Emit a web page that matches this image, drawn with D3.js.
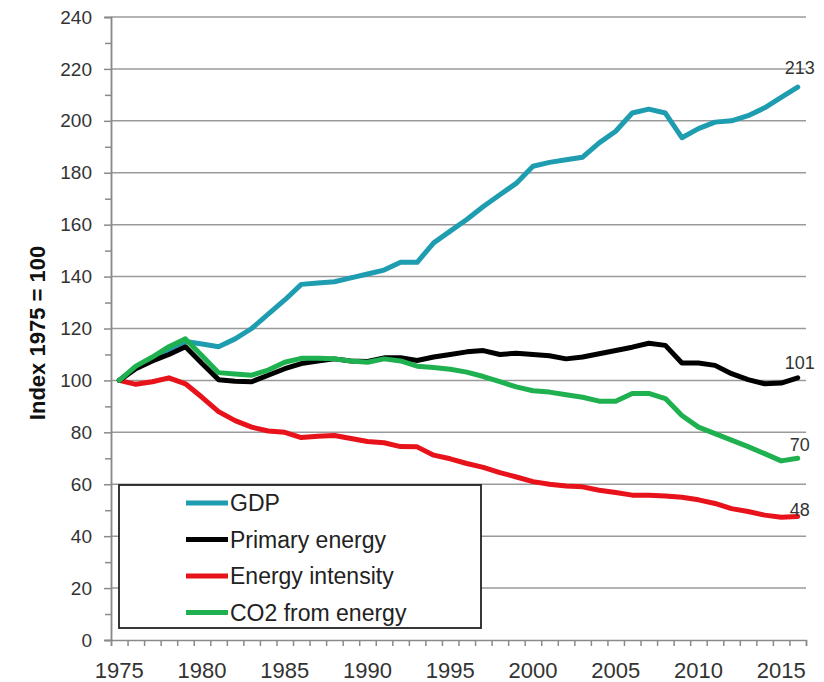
<!DOCTYPE html>
<html>
<head>
<meta charset="utf-8">
<script src="https://cdn.jsdelivr.net/npm/d3@7"></script>
<style>
  body { margin: 0; background: #fff; }
  svg text { font-family: Arial, "Liberation Sans", sans-serif; }
</style>
</head>
<body>
<div class="chart"></div>
<script>
// years on the x axis
var years = d3.range(1975, 2017);

// index values, 1975 = 100
var gdp = [100, 105, 108.5, 112, 115, 114, 113, 116, 120, 125.5,
  131, 137, 137.5, 138, 139.5, 141, 142.5, 145.5, 145.5, 153,
  157.5, 162, 167, 171.5, 176, 182.5, 184, 185, 186, 191.5,
  196, 203, 204.5, 203, 193.5, 197, 199.5, 200, 202, 205,
  209, 213];

var primaryEnergy = [100, 104.5, 107.5, 110, 113, 106.5, 100.3, 99.7, 99.5, 102,
  104.5, 106.5, 107.5, 108.3, 107.5, 107.3, 108.7, 108.7, 107.7, 109,
  110, 111, 111.5, 110, 110.5, 110, 109.5, 108.3, 109, 110.3,
  111.5, 112.8, 114.3, 113.5, 106.7, 106.7, 105.8, 102.6, 100.3, 98.7,
  99, 101];

var energyIntensity = [100, 98.5, 99.5, 101, 98.7, 93.5, 88, 84.5, 82, 80.5,
  80, 78, 78.5, 78.8, 77.6, 76.5, 76, 74.5, 74.4, 71.2,
  69.8, 68, 66.5, 64.5, 62.8, 61, 60, 59.3, 59, 57.7,
  56.8, 55.8, 55.8, 55.5, 55, 54, 52.6, 50.6, 49.5, 48.1,
  47.3, 47.6];

var co2 = [100, 105.5, 109, 113, 116, 109.5, 103, 102.5, 102, 104,
  107, 108.5, 108.5, 108.3, 107.5, 107, 108.3, 107.5, 105.5, 105,
  104.3, 103.2, 101.5, 99.5, 97.5, 96, 95.5, 94.5, 93.5, 92,
  92, 95, 95, 93, 86.5, 82, 79.5, 77, 74.5, 71.8,
  69, 70];

var seriesNames = ["GDP", "Primary energy", "Energy intensity", "CO2 from energy"];
var seriesColors = ["#1e9cb0", "#000000", "#e8121b", "#1fb04f"];
var endLabels = ["213", "101", "48", "70"];

var yTicks = d3.range(0, 241, 20);
var xTickLabels = [1975, 1980, 1985, 1990, 1995, 2000, 2005, 2010, 2015];

var svgWidth = 824;
var svgHeight = 682;

var margin = { top: 17, bottom: 42, left: 111, right: 18 };
var width = svgWidth - margin.left - margin.right;
var height = svgHeight - margin.top - margin.bottom;

var svg = d3.select(".chart")
  .append("svg")
  .attr("width", svgWidth)
  .attr("height", svgHeight);

var chartGroup = svg.append("g")
  .attr("transform", `translate(${margin.left}, ${margin.top})`);

// each year is a category, point sits in the middle of it
var xScale = d3.scaleLinear()
  .domain([1974.5, 2016.5])
  .range([0, width]);

var yScale = d3.scaleLinear()
  .domain([0, 240])
  .range([height, 0]);

// gridlines
chartGroup.append("g")
  .selectAll("line")
  .data(yTicks.slice(1))
  .enter()
  .append("line")
  .attr("x1", 0)
  .attr("x2", width)
  .attr("y1", d => yScale(d))
  .attr("y2", d => yScale(d))
  .attr("stroke", "#9a9a9a")
  .attr("stroke-width", 1.5);

// y axis with minor ticks
var yMinor = d3.axisLeft(yScale).tickValues(d3.range(10, 240, 20)).tickSize(6).tickFormat("");
var yAxis = d3.axisLeft(yScale).tickValues(yTicks).tickSize(7).tickPadding(12);

chartGroup.append("g").attr("class", "axis").call(yMinor);
chartGroup.append("g").attr("class", "axis").call(yAxis)
  .selectAll("text")
  .style("font-size", "19px")
  .attr("fill", "#333");

// x axis: ticks between the years, labels every 5 years
var xAxis = d3.axisBottom(xScale).tickValues(d3.range(1974.5, 2017, 1)).tickSize(6).tickFormat("");
chartGroup.append("g")
  .attr("class", "axis")
  .attr("transform", `translate(0, ${height})`)
  .call(xAxis);

chartGroup.append("g")
  .selectAll("text")
  .data(xTickLabels)
  .enter()
  .append("text")
  .attr("x", d => xScale(d))
  .attr("y", height + 38)
  .attr("text-anchor", "middle")
  .style("font-size", "22px")
  .attr("fill", "#333")
  .text(d => d);

chartGroup.selectAll(".axis path, .axis line")
  .attr("stroke", "#8a8a8a")
  .attr("stroke-width", 1.5);

// lines
var allSeries = [gdp, primaryEnergy, energyIntensity, co2];
var lineGen = d3.line()
  .x((d, i) => xScale(years[i]))
  .y(d => yScale(d));

// draw order: gdp first, then red, black, green on top
[0, 2, 1, 3].forEach(function(k) {
  chartGroup.append("path")
    .datum(allSeries[k])
    .attr("fill", "none")
    .attr("stroke", seriesColors[k])
    .attr("stroke-width", 5)
    .attr("stroke-linejoin", "round")
    .attr("stroke-linecap", "round")
    .attr("d", lineGen);
});

// end labels
var labelDy = [-13, -9, 0, -7];
allSeries.forEach(function(s, k) {
  chartGroup.append("text")
    .attr("x", xScale(2016) + 2)
    .attr("y", yScale(s[s.length - 1]) + labelDy[k])
    .attr("text-anchor", "middle")
    .style("font-size", "18px")
    .attr("fill", "#333")
    .text(endLabels[k]);
});

// legend
var legend = svg.append("g").attr("transform", "translate(119, 485)");
legend.append("rect")
  .attr("width", 362)
  .attr("height", 143)
  .attr("fill", "#fff")
  .attr("stroke", "#222")
  .attr("stroke-width", 1.8);

var legendItems = legend.selectAll(".item")
  .data(seriesNames)
  .enter()
  .append("g")
  .attr("transform", (d, i) => `translate(0, ${18 + i * 36.5})`);

legendItems.append("line")
  .attr("x1", 67)
  .attr("x2", 109)
  .attr("stroke", (d, i) => seriesColors[i])
  .attr("stroke-width", 5);

legendItems.append("text")
  .attr("x", 111)
  .attr("y", 8)
  .style("font-size", "23px")
  .attr("fill", "#222")
  .text(d => d);

// y axis title
svg.append("text")
  .attr("transform", "translate(45, 333) rotate(-90)")
  .attr("text-anchor", "middle")
  .style("font-size", "22px")
  .style("font-weight", "bold")
  .attr("fill", "#111")
  .text("Index 1975 = 100");
</script>
</body>
</html>
